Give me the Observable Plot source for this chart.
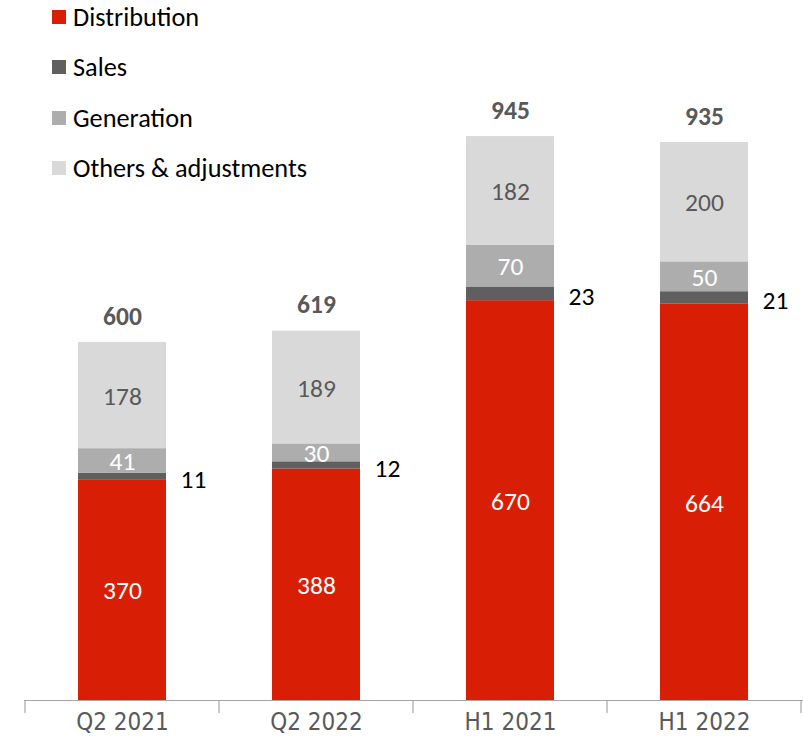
<!DOCTYPE html>
<html>
<head>
<meta charset="utf-8">
<script src="https://cdn.jsdelivr.net/npm/d3@7"></script>
<script src="https://cdn.jsdelivr.net/npm/@observablehq/plot@0.6"></script>
<style>
  html, body { margin: 0; padding: 0; background: #fff; }
  #wrap { position: relative; width: 803px; height: 747px; }
  #legend { position: absolute; left: 52px; top: 0; font-family: Carlito, Lato, sans-serif; font-size: 26.3px; color: #000; }
  .item { position: absolute; left: 0; white-space: nowrap; display: flex; align-items: center; height: 30px; }
  .sw { width: 14px; height: 14px; margin-right: 7px; display: inline-block; }
</style>
</head>
<body>
<div id="wrap">
  <div id="chart"></div>
  <div id="legend"></div>
</div>
<script>
const categories = ["Q2 2021", "Q2 2022", "H1 2021", "H1 2022"];
const series = ["Distribution", "Sales", "Generation", "Others & adjustments"];
const distribution = [370, 388, 670, 664];
const sales = [11, 12, 23, 21];
const generation = [41, 30, 70, 50];
const others = [178, 189, 182, 200];
const totals = [600, 619, 945, 935];

const colors = ["#d81e05", "#5f5f5f", "#adadad", "#d9d9d9"];
const labelColors = ["#ffffff", "#000000", "#ffffff", "#595959"];

const valuesBySeries = [distribution, sales, generation, others];
const rows = [];
categories.forEach((c, i) => {
  series.forEach((s, j) => {
    rows.push({ category: c, series: s, value: valuesBySeries[j][i] });
  });
});
const totalRows = categories.map((c, i) => ({ category: c, total: totals[i] }));

const stackOpts = { x: "category", y: "value", z: "series", order: series };

const plot = Plot.plot({
  width: 803,
  height: 747,
  marginTop: 0,
  marginBottom: 47,
  marginLeft: 24,
  marginRight: 0,
  x: { domain: categories, paddingInner: 0.545, paddingOuter: 0.2725, label: null },
  y: { domain: [0, 1173], axis: null },
  color: { domain: series, range: colors },
  style: { fontFamily: "Carlito, Lato, sans-serif", background: "#fff" },
  marks: [
    Plot.barY(rows, Plot.stackY({ ...stackOpts, fill: "series" })),
    Plot.text(rows, Plot.stackY({
      ...stackOpts,
      text: d => d.series === "Sales" ? "" : String(d.value),
      fill: d => labelColors[series.indexOf(d.series)],
      fontSize: 25.5,
      dy: 1
    })),
    Plot.text(rows, Plot.stackY({
      ...stackOpts,
      text: d => d.series === "Sales" ? String(d.value) : "",
      fill: "#000",
      fontSize: 25.5,
      dx: 71,
      dy: 3
    })),
    Plot.text(totalRows, {
      x: "category", y: "total", text: d => String(d.total),
      fill: "#595959", fontWeight: "bold", fontSize: 25.5, dy: -26
    }),
    Plot.ruleY([0], { stroke: "#a6a6a6", strokeWidth: 1.2 }),
    Plot.axisX({
      tickSize: 0, fontSize: 24, fill: "#595959", tickPadding: 12,
      fontFamily: "'Liberation Sans Narrow', 'DejaVu Sans Condensed', sans-serif"
    })
  ]
});
document.getElementById("chart").appendChild(plot);

// category divider ticks on the axis, positioned with the plot's own x scale
const xs = plot.scale("x");
const svg = d3.select(plot);
const step = xs.step;
const bounds = [];
categories.forEach(c => bounds.push(xs.apply(c) - (step - xs.bandwidth) / 2));
bounds.push(xs.apply(categories[3]) + xs.bandwidth + (step - xs.bandwidth) / 2);
const yb = plot.scale("y").apply(0);
svg.append("g").selectAll("line").data(bounds).join("line")
  .attr("x1", d => d).attr("x2", d => d)
  .attr("y1", yb).attr("y2", yb + 13)
  .attr("stroke", "#a6a6a6").attr("stroke-width", 1.2);

const legend = d3.select("#legend");
series.forEach((s, i) => {
  const it = legend.append("div").attr("class", "item").style("top", (2 + i * 50.3) + "px");
  it.append("span").attr("class", "sw").style("background", colors[i]);
  it.append("span").text(s);
});
</script>
</body>
</html>
